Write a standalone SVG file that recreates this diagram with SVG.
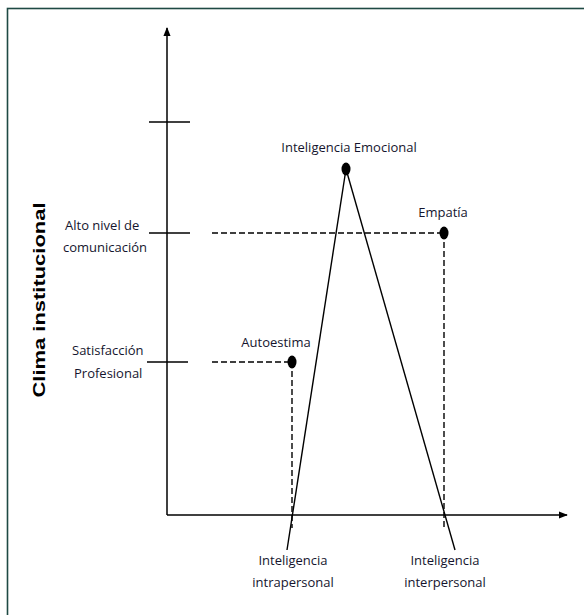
<svg xmlns="http://www.w3.org/2000/svg" width="584" height="615" viewBox="0 0 584 615">
<defs>
<style>
.lbl{font-family:"Open Sans","Liberation Sans",sans-serif;font-size:13px;fill:#15152e}
.ax{stroke:#000;stroke-width:1.5;fill:none}
.dash{stroke:#000;stroke-width:1.4;stroke-dasharray:6,3;fill:none}
.tri{stroke:#000;stroke-width:1.4;fill:none}
</style>
<marker id="ah" viewBox="0 0 10 10" refX="9" refY="5" markerWidth="9" markerHeight="9" markerUnits="userSpaceOnUse" orient="auto">
<path d="M0,1 L10,5 L0,9 Z" fill="#000"/>
</marker>
</defs>
<rect x="0" y="0" width="584" height="615" fill="#fff"/>
<rect x="7.5" y="8.5" width="600" height="620" fill="none" stroke="#1e4a44" stroke-width="1.6"/>
<g id="connectors">
<line class="ax" x1="167" y1="515" x2="167" y2="28" marker-end="url(#ah)"/>
<line class="ax" x1="167" y1="515" x2="567" y2="515" marker-end="url(#ah)"/>
<line class="ax" x1="149" y1="122" x2="190" y2="122"/>
<line class="ax" x1="149" y1="233" x2="190" y2="233"/>
<line class="ax" x1="147" y1="362" x2="188" y2="362"/>
<line class="dash" x1="212" y1="233" x2="443" y2="233"/>
<line class="dash" x1="212" y1="362" x2="292" y2="362"/>
<line class="dash" x1="444" y1="233" x2="444" y2="528"/>
<line class="dash" x1="292" y1="362" x2="292" y2="528"/>
<line class="tri" x1="346" y1="169" x2="287" y2="550"/>
<line class="tri" x1="346" y1="169" x2="455" y2="550"/>
</g>
<g id="y-title">
<text transform="translate(45,300) rotate(-90)" text-anchor="middle" font-family="Liberation Sans,Arial,sans-serif" font-weight="bold" font-size="17" fill="#000" textLength="195" lengthAdjust="spacingAndGlyphs">Clima institucional</text>
</g>
<g id="alto">
<text class="lbl" x="65" y="230">Alto nivel de</text>
<text class="lbl" x="63" y="252">comunicación</text>
</g>
<g id="satisfaccion">
<text class="lbl" x="72" y="355">Satisfacción</text>
<text class="lbl" x="74" y="378">Profesional</text>
</g>
<g id="emocional">
<ellipse cx="346" cy="169" rx="4.5" ry="6.5" fill="#000"/>
<text class="lbl" x="349" y="152" text-anchor="middle">Inteligencia Emocional</text>
</g>
<g id="empatia">
<ellipse cx="444" cy="233" rx="4.5" ry="6.5" fill="#000"/>
<text class="lbl" x="443" y="217" text-anchor="middle">Empatía</text>
</g>
<g id="autoestima">
<ellipse cx="292" cy="362" rx="4.5" ry="6.5" fill="#000"/>
<text class="lbl" x="276" y="347" text-anchor="middle">Autoestima</text>
</g>
<g id="intra">
<text class="lbl" x="293" y="565" text-anchor="middle">Inteligencia</text>
<text class="lbl" x="293" y="587" text-anchor="middle">intrapersonal</text>
</g>
<g id="inter">
<text class="lbl" x="445" y="565" text-anchor="middle">Inteligencia</text>
<text class="lbl" x="445" y="587" text-anchor="middle">interpersonal</text>
</g>
</svg>
